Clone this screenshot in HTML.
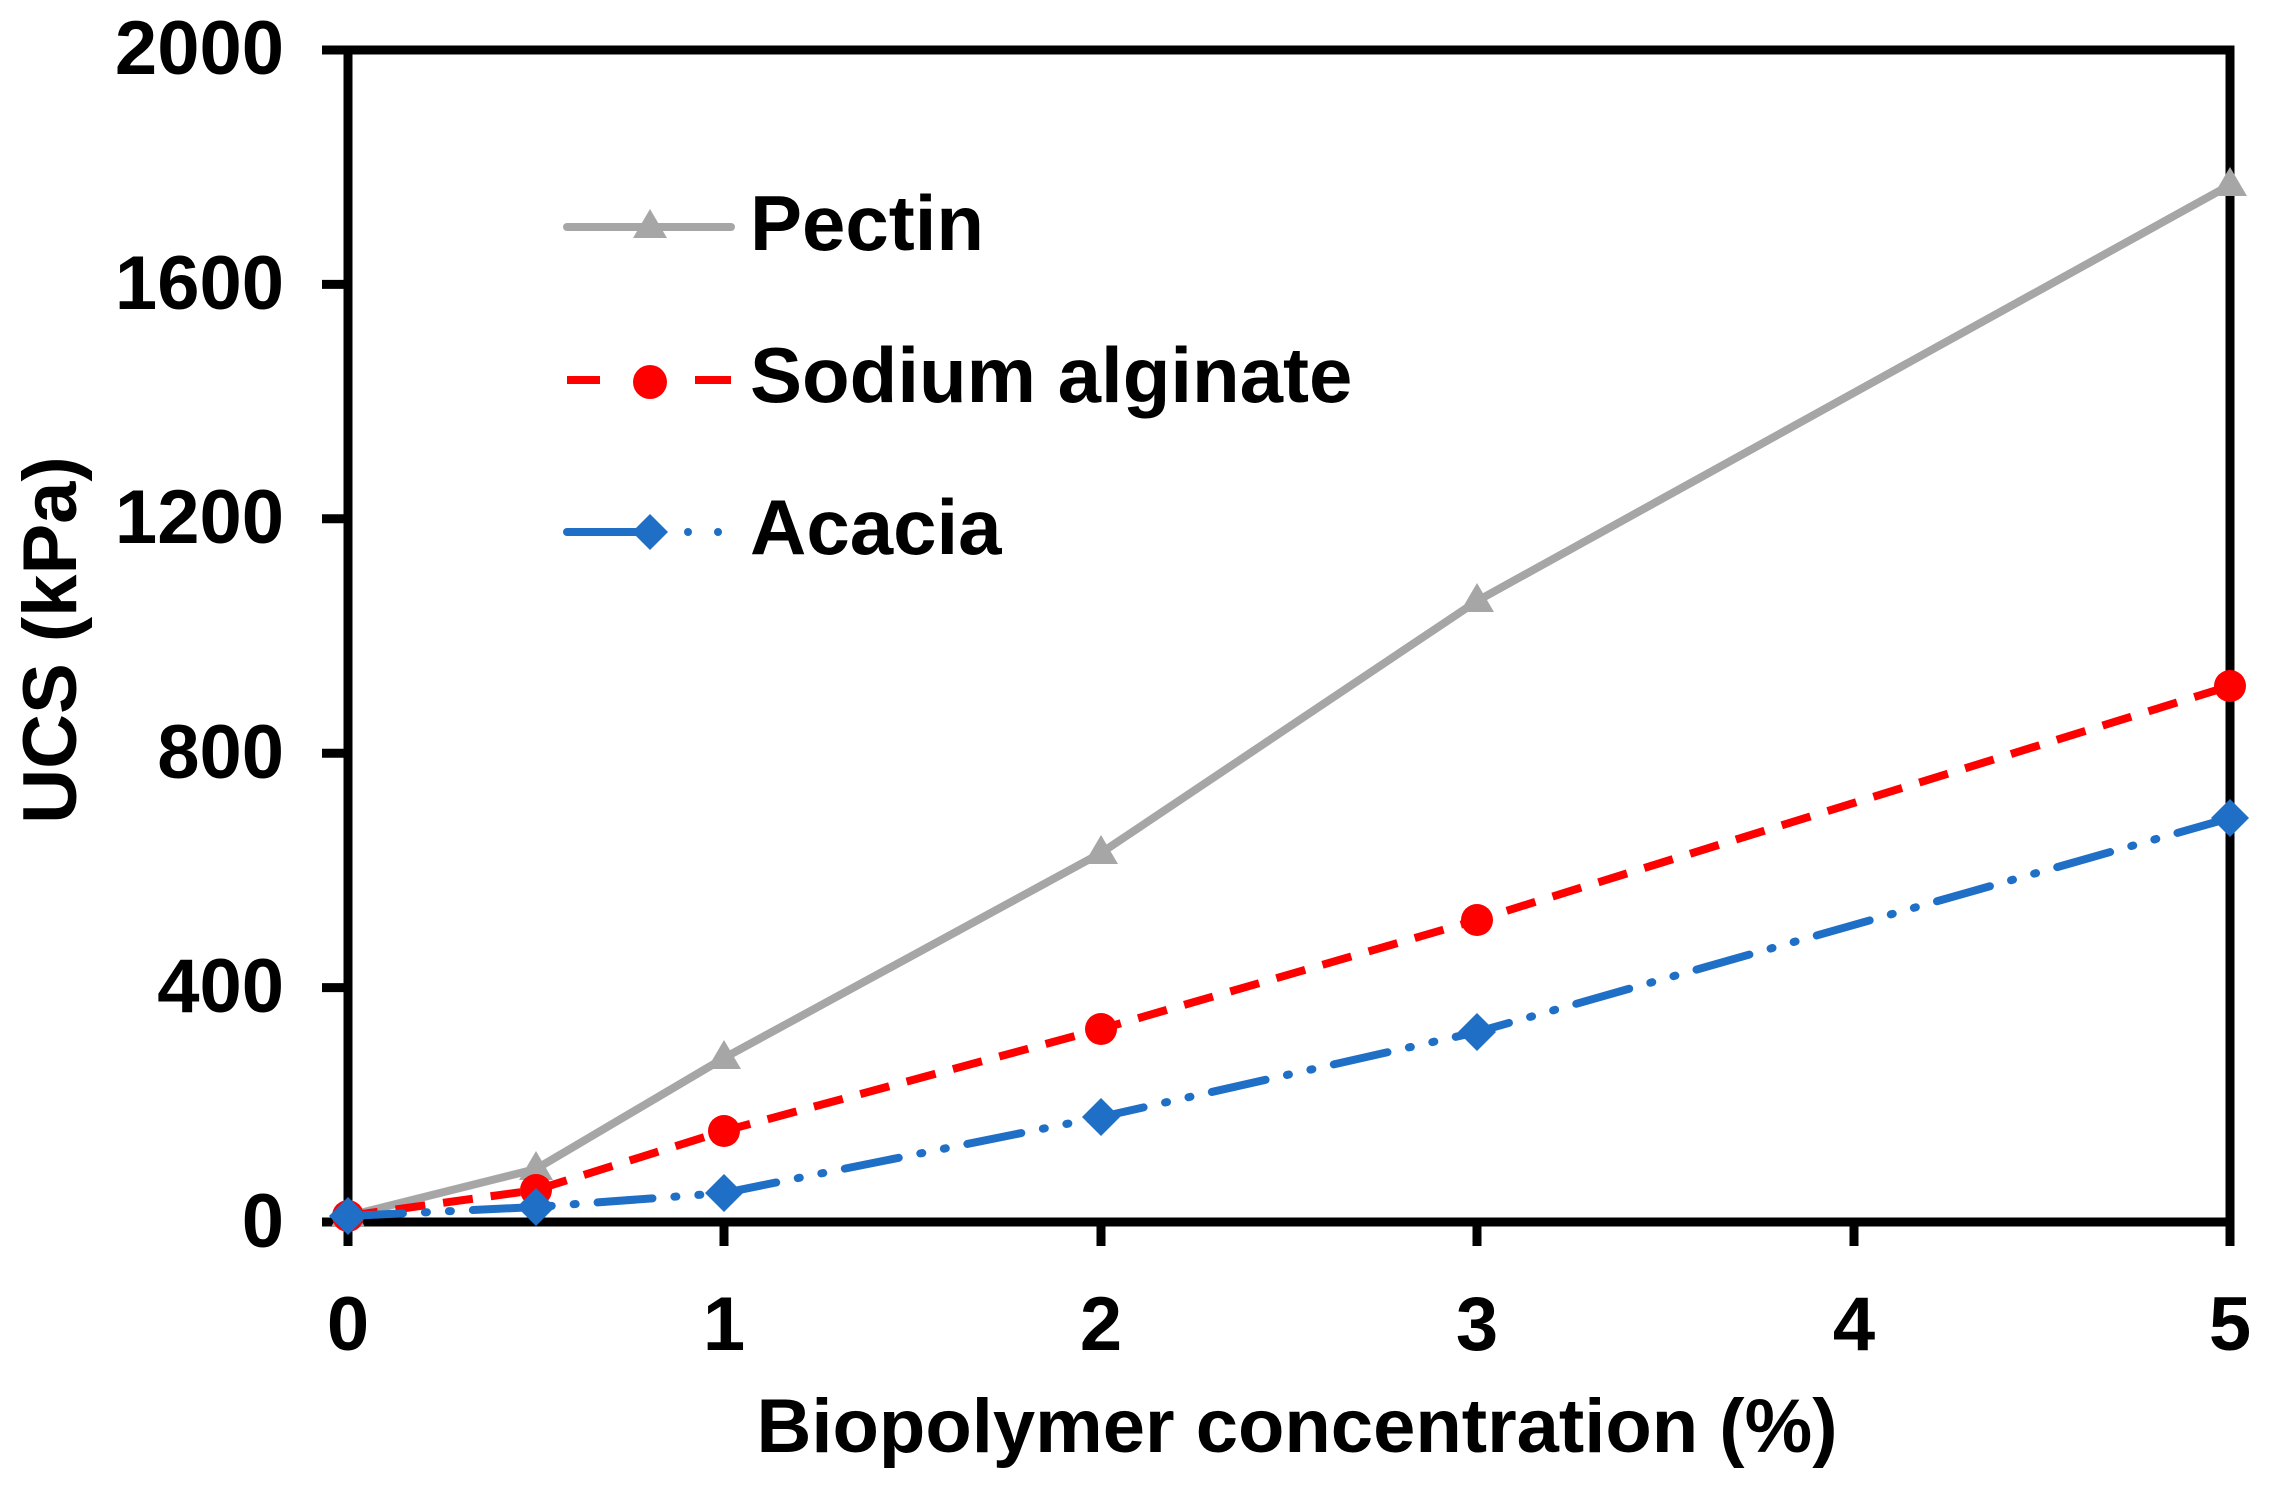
<!DOCTYPE html>
<html><head><meta charset="utf-8"><style>
html,body{margin:0;padding:0;background:#fff;}
svg{display:block;font-family:"Liberation Sans",Arial,sans-serif;font-weight:bold;}
</style></head><body>
<svg width="2280" height="1487" viewBox="0 0 2280 1487" xmlns="http://www.w3.org/2000/svg">
<rect width="2280" height="1487" fill="#fff"/>
<rect x="348" y="50" width="1882" height="1172" fill="none" stroke="#000" stroke-width="9"/>
<g stroke="#000" stroke-width="9">
<line x1="322" y1="50" x2="348" y2="50"/>
<line x1="322" y1="284.4" x2="348" y2="284.4"/>
<line x1="322" y1="518.8" x2="348" y2="518.8"/>
<line x1="322" y1="753.2" x2="348" y2="753.2"/>
<line x1="322" y1="987.6" x2="348" y2="987.6"/>
<line x1="322" y1="1222" x2="348" y2="1222"/>
<line x1="348" y1="1222" x2="348" y2="1246"/>
<line x1="724" y1="1222" x2="724" y2="1246"/>
<line x1="1101" y1="1222" x2="1101" y2="1246"/>
<line x1="1477" y1="1222" x2="1477" y2="1246"/>
<line x1="1854" y1="1222" x2="1854" y2="1246"/>
<line x1="2230" y1="1222" x2="2230" y2="1246"/>
</g>
<g font-size="76" text-anchor="end">
<text x="284" y="74">2000</text>
<text x="284" y="309">1600</text>
<text x="284" y="543">1200</text>
<text x="284" y="778">800</text>
<text x="284" y="1012">400</text>
<text x="284" y="1247">0</text>
</g>
<g font-size="76" text-anchor="middle">
<text x="348" y="1350">0</text>
<text x="724" y="1350">1</text>
<text x="1101" y="1350">2</text>
<text x="1477" y="1350">3</text>
<text x="1854" y="1350">4</text>
<text x="2230" y="1350">5</text>
</g>
<text x="1297" y="1452" font-size="76" text-anchor="middle">Biopolymer concentration (%)</text>
<text transform="translate(76,640) rotate(-90)" font-size="76" text-anchor="middle">UCS (kPa)</text>

<polyline points="348,1216 536,1169 724,1058 1101,853 1477,601 2230,185" fill="none" stroke="#a6a6a6" stroke-width="8"/>
<g fill="#a6a6a6">
<polygon points="348,1198 365,1227 331,1227"/>
<polygon points="536,1151 553,1180 519,1180"/>
<polygon points="724,1040 741,1069 707,1069"/>
<polygon points="1101,835 1118,864 1084,864"/>
<polygon points="1477,583 1494,612 1460,612"/>
<polygon points="2230,167 2247,196 2213,196"/>
</g>
<polyline points="348,1216 536,1190 724,1131 1101,1029 1477,920 2230,686" fill="none" stroke="#ff0000" stroke-width="8" stroke-dasharray="30,18"/>
<g fill="#ff0000">
<circle cx="348" cy="1216" r="16"/>
<circle cx="536" cy="1190" r="16"/>
<circle cx="724" cy="1131" r="16"/>
<circle cx="1101" cy="1029" r="16"/>
<circle cx="1477" cy="920" r="16"/>
<circle cx="2230" cy="686" r="16"/>
</g>
<polyline points="348,1216 536,1207 724,1193 1101,1117 1477,1032 2230,818" fill="none" stroke="#1f6fc6" stroke-width="8" stroke-dasharray="55,22,2,22,2,22" stroke-linecap="round"/>
<g fill="#1f6fc6">
<polygon points="348,1197 367,1216 348,1235 329,1216"/>
<polygon points="536,1188 555,1207 536,1226 517,1207"/>
<polygon points="724,1174 743,1193 724,1212 705,1193"/>
<polygon points="1101,1098 1120,1117 1101,1136 1082,1117"/>
<polygon points="1477,1013 1496,1032 1477,1051 1458,1032"/>
<polygon points="2230,799 2249,818 2230,837 2211,818"/>
</g>

<line x1="567" y1="227" x2="731" y2="227" stroke="#a6a6a6" stroke-width="8" stroke-linecap="round"/>
<polygon points="650,209 667,238 633,238" fill="#a6a6a6"/>
<text x="750" y="250" font-size="78">Pectin</text>
<line x1="567" y1="380" x2="600" y2="380" stroke="#ff0000" stroke-width="8"/>
<line x1="695" y1="380" x2="731" y2="380" stroke="#ff0000" stroke-width="8"/>
<circle cx="650" cy="382" r="17" fill="#ff0000"/>
<text x="750" y="402" font-size="78">Sodium alginate</text>
<line x1="567" y1="532" x2="640" y2="532" stroke="#1f6fc6" stroke-width="8" stroke-linecap="round"/>
<polygon points="650,514 668,532 650,550 632,532" fill="#1f6fc6"/>
<circle cx="688" cy="532" r="4" fill="#1f6fc6"/>
<circle cx="718" cy="532" r="4" fill="#1f6fc6"/>
<text x="750" y="554" font-size="78">Acacia</text>
</svg>
</body></html>
